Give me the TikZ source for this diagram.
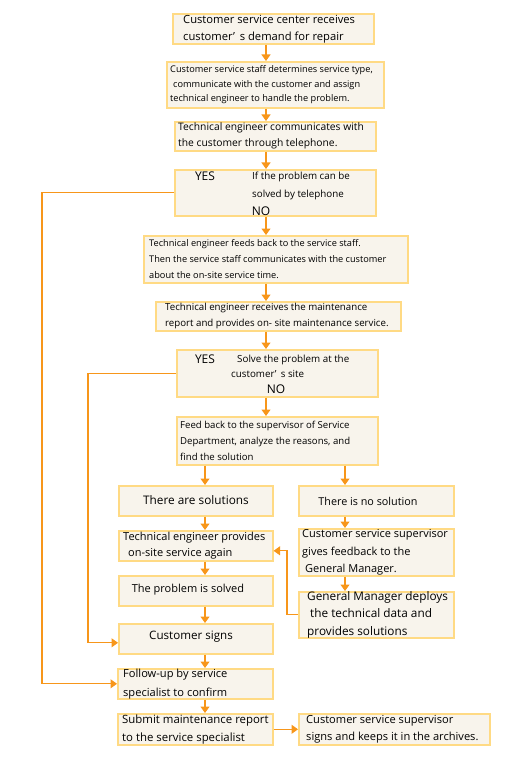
\documentclass[tikz,border=0pt]{standalone}
\usepackage{fontspec}
\setmainfont{Open Sans}
\usetikzlibrary{arrows.meta,positioning}

\definecolor{boxedge}{HTML}{FFDA84}
\definecolor{boxfill}{HTML}{F8F4EC}
\definecolor{flow}{HTML}{F7961A}

\begin{document}
\begin{tikzpicture}[
    x=1pt, y=-1pt,
    box/.style={rectangle, draw=boxedge, fill=boxfill, line width=1.6pt, anchor=north west, inner sep=0pt},
    txt/.style={anchor=west, align=left, inner sep=0pt},
    ctxt/.style={anchor=center, align=center, inner sep=0pt},
    fs/.style 2 args={font=\fontsize{#1}{#2}\selectfont},
    yn/.style={inner sep=0pt, font=\fontsize{12}{12}\selectfont},
    arrow/.style={draw=flow, line width=1.1pt, -{Triangle[length=6.5pt,width=9pt]}}
]
\useasboundingbox (0,0) rectangle (519,759);

% columns for the connectors
\coordinate (spine) at (266,0);
\coordinate (lcol) at (205,0);
\coordinate (rcol) at (345,0);

% Main column
\node[box, minimum width=201, minimum height=30] (recv) at (172,13) {};
\node[txt, fs={11.2}{17}] (recvt) at ([xshift=11]recv.west) {Customer service center receives\\customer’\, s demand for repair};

\node[box, minimum width=217, minimum height=46] (stype) at (166,61) {};
\node[txt, fs={9.2}{14.5}] (stypet) at ([xshift=4]stype.west) {Customer service staff determines service type,\\\hspace*{3pt}communicate with the customer and assign\\technical engineer to handle the problem.};

\node[box, minimum width=201, minimum height=29] (phone) at (174,121) {};
\node[txt, fs={10.3}{16}] (phonet) at ([xshift=4]phone.west) {Technical engineer communicates with\\the customer through telephone.};

\node[box, minimum width=201, minimum height=46] (tel) at (174,169) {};
\node[txt, fs={9.8}{18}] (telq) at (252,186) {If the problem can be\\solved by telephone};
\node[yn] (telyes) at (205,176) {YES};
\node[yn] (telno) at (261,211) {NO};

\node[box, minimum width=264, minimum height=47] (feed) at (143,235) {};
\node[txt, fs={9.2}{16}] (feedt) at ([xshift=6]feed.west) {Technical engineer feeds back to the service staff.\\Then the service staff communicates with the customer\\about the on-site service time.};

\node[box, minimum width=245, minimum height=29] (report) at (155,301) {};
\node[txt, fs={9.7}{16}] (reportt) at ([xshift=10]report.west) {Technical engineer receives the maintenance\\report and provides on- site maintenance service.};

\node[box, minimum width=201, minimum height=47] (site) at (176,349) {};
\node[txt, fs={9.8}{15}] (siteq) at (231,366.5) {\hspace*{6pt}Solve the problem at the\\customer’\, s site};
\node[yn] (siteyes) at (205,359) {YES};
\node[yn] (siteno) at (276,389) {NO};

\node[box, minimum width=201, minimum height=48] (super) at (176,416) {};
\node[txt, fs={9.6}{16}] (supert) at ([xshift=4]super.west) {Feed back to the supervisor of Service\\Department, analyze the reasons, and\\find the solution};

% Left branch
\node[box, minimum width=154, minimum height=30] (yessol) at (118,485) {};
\node[ctxt, fs={11.8}{14}] (yessolt) at (196,500) {There are solutions};

\node[box, minimum width=154, minimum height=30] (again) at (118,530) {};
\node[txt, fs={11}{16}] (againt) at ([xshift=5]again.west) {Technical engineer provides\\\hspace*{5pt}on-site service again};

\node[box, minimum width=154, minimum height=30] (solved) at (118,575) {};
\node[ctxt, fs={11}{14}] (solvedt) at (188,590) {The problem is solved};

\node[box, minimum width=154, minimum height=30] (signs) at (118,623) {};
\node[ctxt, fs={11.6}{14}] (signst) at (191,637) {Customer signs};

\node[box, minimum width=155, minimum height=30] (follow) at (117,668) {};
\node[txt, fs={11.1}{19}] (followt) at ([xshift=6]follow.west) {Follow-up by service\\specialist to confirm};

\node[box, minimum width=155, minimum height=31] (submit) at (117,713) {};
\node[txt, fs={11.4}{18}] (submitt) at ([xshift=5]submit.west) {Submit maintenance report\\to the service specialist};

% Right branch
\node[box, minimum width=155, minimum height=30] (nosol) at (298,485) {};
\node[ctxt, fs={10.8}{14}] (nosolt) at (368,501) {There is no solution};

\node[box, minimum width=155, minimum height=47] (gm) at (298,528) {};
\node[txt, fs={11}{17.5}] (gmt) at ([xshift=4]gm.west) {Customer service supervisor\\gives feedback to the\\\hspace*{3pt}General Manager.};

\node[box, minimum width=155, minimum height=46] (deploy) at (298,591) {};
\node[txt, fs={11.8}{17.5}] (deployt) at ([xshift=9]deploy.west) {General Manager deploys\\\hspace*{3pt}the technical data and\\provides solutions};

\node[box, minimum width=191, minimum height=31] (archive) at (298,713) {};
\node[txt, fs={11.1}{17}] (archivet) at ([xshift=8]archive.west) {Customer service supervisor\\signs and keeps it in the archives.};

% Arrows
\draw[arrow] (recv.south -| spine) -- (stype.north -| spine);
\draw[arrow] (stype.south -| spine) -- (phone.north -| spine);
\draw[arrow] (phone.south -| spine) -- (tel.north -| spine);
\draw[arrow] (tel.south -| spine) -- (feed.north -| spine);
\draw[arrow] (feed.south -| spine) -- (report.north -| spine);
\draw[arrow] (report.south -| spine) -- (site.north -| spine);
\draw[arrow] (site.south -| spine) -- (super.north -| spine);
\draw[arrow] (super.south -| lcol) -- (yessol.north -| lcol);
\draw[arrow] (super.south -| rcol) -- (nosol.north -| rcol);
\draw[arrow] (yessol.south -| lcol) -- (again.north -| lcol);
\draw[arrow] (again.south -| lcol) -- (solved.north -| lcol);
\draw[arrow] (solved.south -| lcol) -- (signs.north -| lcol);
\draw[arrow] (signs.south -| lcol) -- (follow.north -| lcol);
\draw[arrow] (follow.south -| lcol) -- (submit.north -| lcol);
\draw[arrow] (nosol.south -| rcol) -- (gm.north -| rcol);
\draw[arrow] (gm.south -| rcol) -- (deploy.north -| rcol);
\draw[arrow] (deploy.west) -- ++(-11,0) |- ([yshift=-5]again.east);
\draw[arrow] (submit.east) -- (archive.west);

% YES loops
\draw[arrow] (tel.west) -- ++(-132,0) |- (follow.west);
\draw[arrow] (site.west) -- ++(-88,0) |- ([yshift=-4]signs.west);

\end{tikzpicture}
\end{document}
